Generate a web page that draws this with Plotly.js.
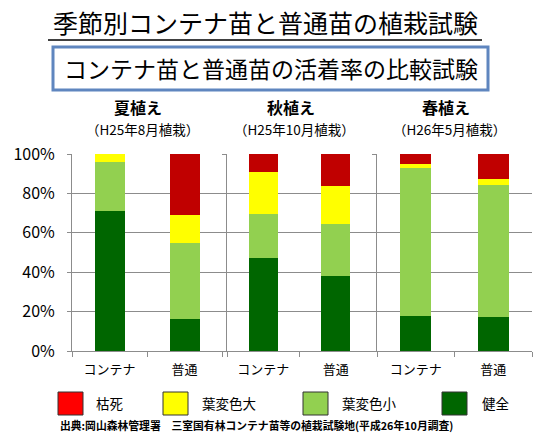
<!DOCTYPE html>
<html><head><meta charset="utf-8">
<script src="https://cdn.plot.ly/plotly-3.0.1.min.js"></script>
<style>body{margin:0;background:#fff}#c{width:556px;height:448px}</style>
</head><body><div id="c"></div><script>
const W=556,H=448;
const panels=["夏植え","秋植え","春植え"];
const panelDates=["（H25年8月植栽）","（H25年10月植栽）","（H26年5月植栽）"];
const categories=["コンテナ","普通"];
const seriesNames=["健全","葉変色小","葉変色大","枯死"];
// values per panel: [コンテナ, 普通]
const kenzen=[[71,16],[47,38],[18,17.5]];
const henshokuSho=[[25,39],[22.5,26.5],[75,67]];
const henshokuDai=[[4,14],[21.5,19.5],[2,2.7]];
const kareshi=[[0,31],[9,16],[5,12.8]];
const yTicks=[0,20,40,60,80,100];
const yTickText=["0%","20%","40%","60%","80%","100%"];
const titleText="季節別コンテナ苗と普通苗の植栽試験";
const subtitleText="コンテナ苗と普通苗の活着率の比較試験";
const sourceText="出典:岡山森林管理署　三室国有林コンテナ苗等の植栽試験地(平成26年10月調査)";

// styles
const barColors=["#006600","#92d050","#ffff00","#c00000"];
const legendColors=["#006600","#92d050","#ffff00","#ff0000"];
const FONT='"Noto Sans CJK JP", "Noto Sans", sans-serif';
const px=x=>x/W, py=y=>1-y/H;
const domPx=[[72,222],[227,372],[377,532]];
const plotTop=154, plotBot=351;
const series=[kenzen,henshokuSho,henshokuDai,kareshi];

const data=[];
const layout={
  width:W,height:H,margin:{l:0,r:0,t:0,b:0},
  paper_bgcolor:'#fff',plot_bgcolor:'rgba(0,0,0,0)',
  barmode:'stack',bargap:0.6,showlegend:false,
  font:{family:FONT,color:'#000'},
  annotations:[],shapes:[]
};
panels.forEach((p,i)=>{
  const xa='x'+(i?i+1:''), ya='y'+(i?i+1:'');
  series.forEach((s,k)=>{
    data.push({type:'bar',x:categories,y:s[i],name:seriesNames[k],
      marker:{color:barColors[k],line:{width:0}},xaxis:xa,yaxis:ya,hoverinfo:'skip'});
  });
  const xk='xaxis'+(i?i+1:''), yk='yaxis'+(i?i+1:'');
  layout[xk]={domain:[px(domPx[i][0]),px(domPx[i][1])],anchor:ya,type:'category',
    showline:true,linecolor:'#8c8c8c',linewidth:1,ticks:'outside',tickson:'boundaries',
    ticklen:5,tickcolor:'#8c8c8c',showgrid:false,tickfont:{size:13,family:FONT,color:'#000'},
    ticklabelstandoff:6,fixedrange:true};
  layout[yk]={domain:[py(plotBot),py(plotTop)],anchor:xa,range:[0,100],
    tickvals:yTicks,ticktext:i===0?yTickText:yTicks.map(()=>''),
    showgrid:true,gridcolor:'#8c8c8c',gridwidth:1,showline:true,linecolor:'#8c8c8c',
    ticks:'outside',ticklen:4,tickcolor:'#8c8c8c',zeroline:false,
    tickfont:{size:16,family:FONT,color:'#000'},ticklabelstandoff:9,fixedrange:true};
  const cx=(domPx[i][0]+domPx[i][1])/2;
  layout.annotations.push({xref:'paper',yref:'paper',x:px(cx-9),y:py(107),text:'<b>'+p+'</b>',
    showarrow:false,font:{size:16,family:FONT,color:'#000'},xanchor:'center',yanchor:'middle'});
  layout.annotations.push({xref:'paper',yref:'paper',x:px(cx-5),y:py(129),text:panelDates[i],
    showarrow:false,font:{size:13.5,family:FONT,color:'#000'},xanchor:'center',yanchor:'middle'});
});
// title
layout.annotations.push({xref:'paper',yref:'paper',x:px(265),y:py(22),text:titleText,showarrow:false,
  font:{size:25,family:FONT,color:'#000'},xanchor:'center',yanchor:'middle'});
layout.shapes.push({type:'line',xref:'paper',yref:'paper',x0:px(48),x1:px(482),y0:py(40),y1:py(40),
  line:{color:'#000',width:1.5}});
layout.shapes.push({type:'rect',xref:'paper',yref:'paper',x0:px(53),x1:px(488),y0:py(47),y1:py(90),
  line:{color:'#5f86bf',width:3},fillcolor:'#fff',layer:'below'});
layout.annotations.push({xref:'paper',yref:'paper',x:px(271),y:py(68),text:subtitleText,showarrow:false,
  font:{size:23,family:FONT,color:'#000'},xanchor:'center',yanchor:'middle'});
// legend (reverse of stacking order)
const legX=[58,163,303,442], legLabX=[94,200,340,480];
[3,2,1,0].forEach((k,j)=>{
  layout.shapes.push({type:'rect',xref:'paper',yref:'paper',x0:px(legX[j]),x1:px(legX[j]+25),
    y0:py(392),y1:py(415),fillcolor:legendColors[k],line:{color:'#333',width:1}});
  layout.annotations.push({xref:'paper',yref:'paper',x:px(legLabX[j]),y:py(403),text:seriesNames[k],
    showarrow:false,font:{size:13.5,family:FONT,color:'#000'},xanchor:'left',yanchor:'middle'});
});
layout.annotations.push({xref:'paper',yref:'paper',x:px(58),y:py(425),text:'<b>'+sourceText+'</b>',showarrow:false,
  font:{size:10.8,family:FONT,color:'#000'},xanchor:'left',yanchor:'middle'});
Plotly.newPlot('c',data,layout,{staticPlot:true});
</script></body></html>
